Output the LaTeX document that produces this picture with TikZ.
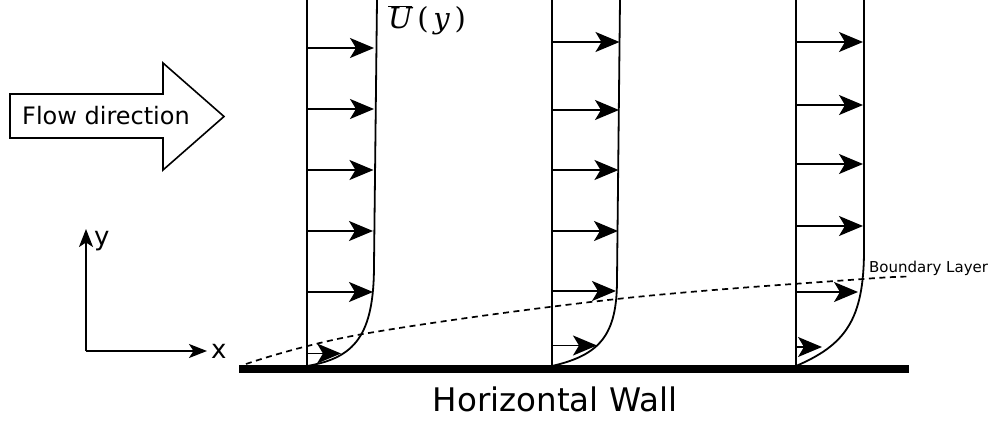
\documentclass[tikz,border=0pt]{standalone}
\usepackage{fontspec}
\setmainfont{DejaVu Sans}
\newfontfamily\ufont{DejaVu Serif}
\usetikzlibrary{arrows.meta}
\tikzset{
  prof/.style={line width=1.8pt},
  vec/.style={line width=1.8pt,arrows={-Stealth[length=24pt,width=20pt,inset=6pt]}},
  axis/.style={line width=1.8pt,arrows={-Stealth[length=18pt,width=14pt,inset=4.5pt]}},
  lbl/.style={inner sep=0pt,font=\fontsize{26}{28}\selectfont},
}
\begin{document}
\begin{tikzpicture}[x=1pt,y=-1pt]
\useasboundingbox (0,0) rectangle (994,422);
% flow direction arrow
\draw[line width=1.6pt,line join=miter] (10,94) -- (163,94) -- (163,63) -- (224,116.5) -- (163,170) -- (163,138) -- (10,138) -- cycle;
\node[inner sep=0pt,font=\fontsize{24}{26}\selectfont] (flow) at (106,116) {Flow direction};
% axes
\coordinate (o) at (86,351);
\coordinate (ytip) at (86,229);
\coordinate (xtip) at (207,351);
\draw[axis] (o) -- (ytip);
\draw[axis] (o) -- (xtip);
\node[lbl,anchor=west] (ylab) at (94,241) {y};
\node[lbl,anchor=west] (xlab) at (211,351) {x};
% wall
\fill (239,365) rectangle (909,373);
\node[inner sep=0pt,font=\fontsize{32.5}{35}\selectfont] (wall) at (555,399) {Horizontal Wall};
% boundary layer
\draw[line width=1.7pt,dash pattern=on 6pt off 4.5pt] plot[smooth,tension=0.6] coordinates {(246,364) (363,334) (617,299) (863,279) (910,277)};
\node[inner sep=0pt,anchor=west,font=\fontsize{15}{17}\selectfont] (bl) at (869,268) {Boundary Layer};
% profile 1
\draw[prof] (307,0) -- (307,366);
\draw[prof] (377,0) -- (374,265) .. controls (374,335) and (355,358) .. (307,366);
\foreach \y/\e [count=\i] in {48/374,109/374,170/373.5,231/373,292/373,353.5/341}{
  \coordinate (pa\i s) at (307,\y);
  \coordinate (pa\i e) at (\e,\y);
  \draw[vec] (pa\i s) -- (pa\i e);
}
% profile 2
\draw[prof] (552,0) -- (552,366);
\draw[prof] (620,0) -- (617,280) .. controls (617,335) and (600,355) .. (552,366);
\foreach \y/\e [count=\i] in {42/619.5,110/619,170/618.5,231/618,291/616,345.5/597}{
  \coordinate (pb\i s) at (552,\y);
  \coordinate (pb\i e) at (\e,\y);
  \draw[vec] (pb\i s) -- (pb\i e);
}
% profile 3
\draw[prof] (796,0) -- (796,366);
\draw[prof] (864,0) -- (864,250) .. controls (864,320) and (845,345) .. (796,366);
\foreach \y/\e [count=\i] in {42/863,105/863,164/863,226/863,292/858,347/822}{
  \coordinate (pc\i s) at (796,\y);
  \coordinate (pc\i e) at (\e,\y);
  \draw[vec] (pc\i s) -- (pc\i e);
}
\node[inner sep=0pt,font=\ufont\fontsize{29}{32}\selectfont] (ulab) at (427,20) {$\overline{\hbox{\ufont\itshape U}}$\,(\,{\itshape y}\,)};
\end{tikzpicture}
\end{document}
